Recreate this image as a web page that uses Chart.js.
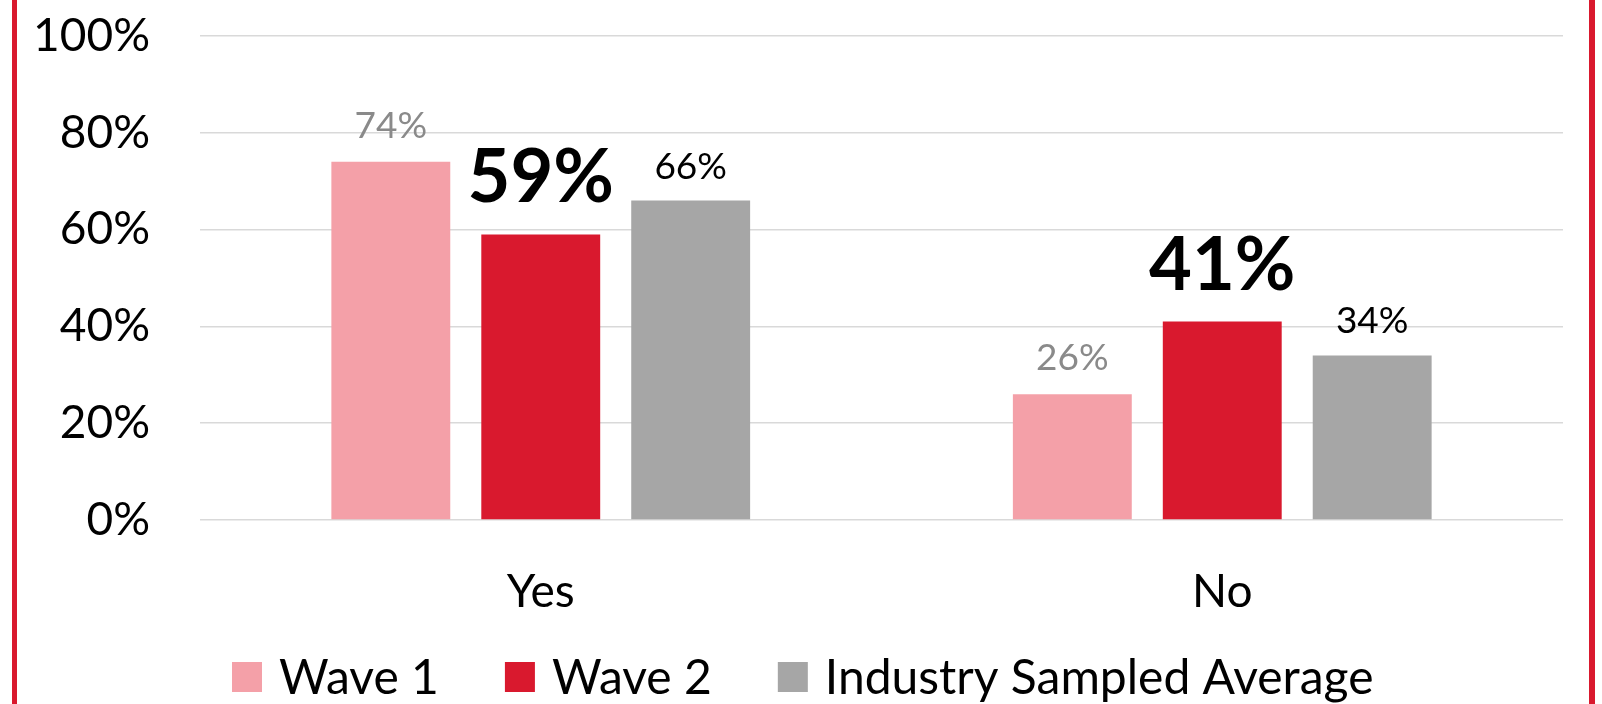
<!DOCTYPE html>
<html>
<head>
<meta charset="utf-8">
<script src="https://cdn.jsdelivr.net/npm/chart.js@4.4.1/dist/chart.umd.min.js"></script>
<style>
    html, body { margin: 0; padding: 0; background: #fff; }
    #wrap { position: relative; width: 1602px; height: 704px; overflow: hidden; }
    .edge { position: absolute; top: 0; bottom: 0; width: 5px; background: #d9192e; }
</style>
</head>
<body>
<div id="wrap">
    <canvas id="chart" width="1602" height="704"></canvas>
    <div class="edge" style="left: 12px"></div>
    <div class="edge" style="left: 1589px; width: 6px"></div>
</div>
<script>
const categories = ["Yes", "No"];
const wave1 = [74, 26];
const wave2 = [59, 41];
const industry = [66, 34];
const seriesNames = ["Wave 1", "Wave 2", "Industry Sampled Average"];
const seriesColors = ["#f4a0a8", "#d9192e", "#a6a6a6"];

const FONT = "Lato";

// value labels above the bars, one style per series
const labelStyles = [
    { color: "#8a8a8a", font: `37px ${FONT}`, gap: 24 },
    { color: "#000000", font: `bold 74px ${FONT}`, gap: 32 },
    { color: "#000000", font: `37px ${FONT}`, gap: 22 },
];

const valueLabels = {
    id: "valueLabels",
    afterDatasetsDraw(chart) {
        const ctx = chart.ctx;
        ctx.save();
        ctx.textAlign = "center";
        ctx.textBaseline = "alphabetic";
        chart.data.datasets.forEach((ds, i) => {
            const st = labelStyles[i];
            ctx.font = st.font;
            ctx.fillStyle = st.color;
            chart.getDatasetMeta(i).data.forEach((bar, j) => {
                ctx.fillText(ds.data[j] + "%", bar.x, bar.y - st.gap);
            });
        });
        ctx.restore();
    },
};

// legend drawn by hand so the box/text spacing matches the original
const bottomLegend = {
    id: "bottomLegend",
    afterDraw(chart) {
        const ctx = chart.ctx;
        const box = 30, textGap = 17, itemGap = 66;
        const cy = 677;
        let x = 232;
        ctx.save();
        ctx.font = `48px ${FONT}`;
        ctx.textBaseline = "middle";
        ctx.textAlign = "left";
        chart.data.datasets.forEach((ds) => {
            ctx.fillStyle = ds.backgroundColor;
            ctx.fillRect(x, cy - box / 2, box, box);
            x += box + textGap;
            ctx.fillStyle = "#000";
            ctx.fillText(ds.label, x, cy + 2);
            x += ctx.measureText(ds.label).width + itemGap;
        });
        ctx.restore();
    },
};

const seriesData = [wave1, wave2, industry];

new Chart(document.getElementById("chart").getContext("2d"), {
    type: "bar",
    data: {
        labels: categories,
        datasets: seriesData.map((values, i) => ({
            label: seriesNames[i],
            data: values,
            backgroundColor: seriesColors[i],
            categoryPercentage: 0.66,
            barPercentage: 0.793,
        })),
    },
    options: {
        responsive: false,
        animation: false,
        layout: { padding: { top: 36, right: 39, left: 0, bottom: 0 } },
        plugins: {
            legend: { display: false },
            tooltip: { enabled: false },
        },
        scales: {
            x: {
                grid: { display: false },
                border: { display: false },
                ticks: { color: "#000", font: { family: FONT, size: 46 }, padding: 37 },
                afterFit: (s) => {
                    s.height = 184;
                    s.paddingLeft = 0;
                    s.paddingRight = 0;
                },
            },
            y: {
                min: 0,
                max: 100,
                ticks: {
                    stepSize: 20,
                    color: "#000",
                    font: { family: FONT, size: 46 },
                    padding: 50,
                    callback: (v) => v + "%",
                },
                grid: { color: "#d9d9d9", lineWidth: 1.5, drawTicks: false },
                border: { display: false },
                afterFit: (s) => {
                    s.width = 200;
                    s.paddingTop = 0;
                    s.paddingBottom = 0;
                },
            },
        },
    },
    plugins: [valueLabels, bottomLegend],
});
</script>
</body>
</html>
